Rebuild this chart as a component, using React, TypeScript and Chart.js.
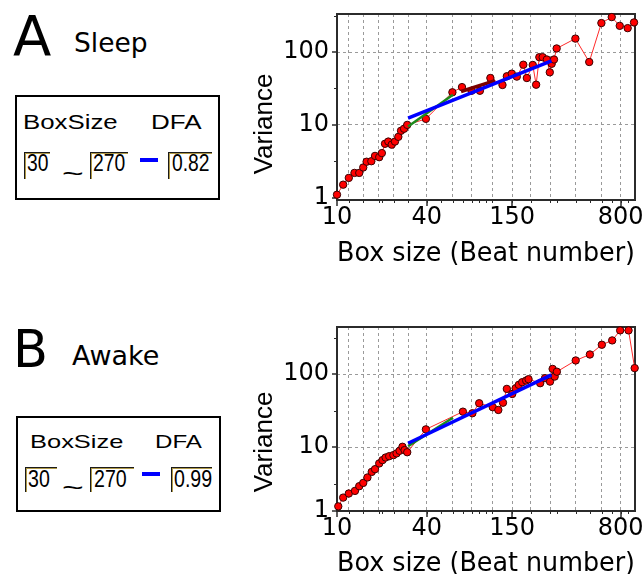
import React, { useEffect, useRef } from "react";
import { Chart, registerables } from "chart.js";

Chart.register(...registerables);

// ---------------- data ----------------
// Panel A (Sleep)
const sleepBoxSize = [10, 11, 12, 13.1, 14.1, 15, 15.8, 17, 18, 19.2, 20, 21, 22.1, 23.3, 24.5, 25.8, 26.9, 28.2, 29.6, 39.5, 59.5, 69, 80, 91, 107, 129, 138, 149, 161, 178, 188, 206, 217, 228, 240, 256, 268, 276, 286, 298, 398, 493, 595, 698, 790, 893, 985];
const sleepVariance = [1.1, 1.51, 1.87, 2.19, 2.19, 2.6, 3.12, 3.17, 3.75, 3.6, 4.1, 5.5, 5.9, 5.35, 5.9, 6.85, 8.3, 8.85, 10.0, 12.1, 28, 33, 29.4, 29.4, 44, 35.3, 46.5, 50.5, 46, 67, 44, 66.5, 35.6, 85, 85, 79, 52.7, 69, 79, 112, 153, 73, 250, 302, 229, 213, 255];
const sleepFitBlueX = [30, 275];
const sleepFitBlueY = [12.4, 75.5];
const sleepFitGreenX = [30, 60];
const sleepFitGreenY = [9.5, 25.9];
const sleepFitMaroonX = [68, 115];
const sleepFitMaroonY = [28.7, 40.5];
const sleepSettings = ["30", "270", "0.82"];

// Panel B (Awake)
const awakeBoxSize = [10.2, 11, 12, 13.2, 14.1, 15, 16, 17.1, 18, 19.2, 20.2, 21.2, 22.4, 23.9, 25.1, 26.3, 27.5, 28.4, 29.6, 39.5, 70, 81, 90, 111, 121, 130, 138, 150, 158, 166, 175, 186, 193, 231, 249, 269, 280, 289, 299, 400, 498, 599, 703, 795, 905, 995];
const awakeVariance = [1.54, 2.03, 2.31, 2.51, 2.91, 3.23, 3.83, 4.57, 4.98, 5.97, 6.63, 7.2, 7.5, 7.76, 8.2, 8.9, 10.1, 9.1, 8.5, 17.5, 30.6, 29.1, 39.9, 35.2, 32.3, 40.6, 62.8, 53.5, 64.1, 71.3, 77.6, 81.7, 85.3, 75.2, 88.1, 79, 118, 92.6, 108, 154, 186, 253, 290, 398, 398, 121];
const awakeFitBlueX = [30, 275];
const awakeFitBlueY = [11.3, 97.5];
const awakeFitGreenX = [30, 60];
const awakeFitGreenY = [10.3, 25.3];
const awakeSettings = ["30", "270", "0.99"];

// axes
const xRange = [10, 1000];
const sleepYRange = [0.93, 333];
const awakeYRange = [1.33, 443];
const xGridTicks = [12, 15, 19, 24, 30, 40, 60, 80, 110, 150, 200, 270, 400, 600, 800];
const xLabelTicks = [10, 40, 150, 800];
const xMinorTicks = [20, 50, 70, 90, 100, 300, 500, 700, 900];
const sleepYLabelTicks = [1, 10, 100];
const awakeYLabelTicks = [1.33, 10, 100];
const yGridTicks = [10, 100];
const yMinorTicks = [3.16, 31.6, 316];

// ---------------- chart building ----------------
const pts = (xs: number[], ys: number[]) => xs.map((x, i) => ({ x, y: ys[i] }));

type Fit = { xs: number[]; ys: number[]; color: string; width: number };
type Panel = {
  top: number;
  padTop: number;
  xHeight: number;
  titlePadBottom: number;
  yTitleY: number;
  yRange: number[];
  yTicks: number[];
  box: number[];
  variance: number[];
  fits: Fit[];
};

const panelA: Panel = {
  top: 0,
  padTop: 14,
  xHeight: 80,
  titlePadBottom: 10,
  yTitleY: 124,
  yRange: sleepYRange,
  yTicks: sleepYLabelTicks,
  box: sleepBoxSize,
  variance: sleepVariance,
  fits: [
    { xs: sleepFitGreenX, ys: sleepFitGreenY, color: "#1c8a1c", width: 2.5 },
    { xs: sleepFitMaroonX, ys: sleepFitMaroonY, color: "#7a0000", width: 3.5 },
    { xs: sleepFitBlueX, ys: sleepFitBlueY, color: "#0000ff", width: 3.5 },
  ],
};

const panelB: Panel = {
  top: 312,
  padTop: 15,
  xHeight: 81,
  titlePadBottom: 12,
  yTitleY: 130,
  yRange: awakeYRange,
  yTicks: awakeYLabelTicks,
  box: awakeBoxSize,
  variance: awakeVariance,
  fits: [
    { xs: awakeFitGreenX, ys: awakeFitGreenY, color: "#1c8a1c", width: 2.5 },
    { xs: awakeFitBlueX, ys: awakeFitBlueY, color: "#0000ff", width: 3.5 },
  ],
};

function decorPlugin(p: Panel) {
  return {
    id: "decor",
    beforeDatasetsDraw(chart: any) {
      const { ctx, chartArea: a } = chart;
      const xs = chart.scales.x;
      const ys = chart.scales.y;
      ctx.save();
      ctx.strokeStyle = "#2b2b2b";
      ctx.lineWidth = 2;
      ctx.strokeRect(a.left, a.top, a.right - a.left, a.bottom - a.top);
      ctx.lineWidth = 1.5;
      ctx.beginPath();
      for (const v of xLabelTicks) {
        const px = Math.round(xs.getPixelForValue(v));
        ctx.moveTo(px, a.bottom);
        ctx.lineTo(px, a.bottom + 6);
      }
      for (const v of p.yTicks) {
        const py = Math.round(ys.getPixelForValue(v));
        ctx.moveTo(a.left, py);
        ctx.lineTo(a.left - 5, py);
      }
      ctx.stroke();
      ctx.lineWidth = 1;
      ctx.beginPath();
      for (const v of [...xGridTicks, ...xMinorTicks]) {
        if (v < xRange[0] || v > xRange[1]) continue;
        const px = Math.round(xs.getPixelForValue(v)) + 0.5;
        ctx.moveTo(px, a.bottom);
        ctx.lineTo(px, a.bottom + 3);
      }
      for (const v of yMinorTicks) {
        if (v < p.yRange[0] || v > p.yRange[1]) continue;
        const py = Math.round(ys.getPixelForValue(v)) + 0.5;
        ctx.moveTo(a.left, py);
        ctx.lineTo(a.left - 3, py);
      }
      ctx.stroke();
      ctx.restore();
    },
    afterDraw(chart: any) {
      const { ctx } = chart;
      ctx.save();
      ctx.translate(24.5, p.yTitleY);
      ctx.rotate(-Math.PI / 2);
      ctx.font = "26px 'Liberation Sans'";
      ctx.fillStyle = "#000";
      ctx.textAlign = "center";
      ctx.textBaseline = "middle";
      ctx.fillText("Variance", 0, 0);
      ctx.restore();
    },
  };
}

function buildConfig(p: Panel): any {
  const datasets: any[] = [
    {
      data: pts(p.box, p.variance),
      showLine: true,
      borderColor: "#ff2a2a",
      borderWidth: 1,
      pointRadius: 3.7,
      pointBackgroundColor: "#ff0000",
      pointBorderColor: "#3a0000",
      pointBorderWidth: 1,
      order: 5,
      clip: false,
    },
    ...p.fits.map((f, i) => ({
      data: pts(f.xs, f.ys),
      showLine: true,
      borderColor: f.color,
      borderWidth: f.width,
      pointRadius: 0,
      order: 3 - i,
    })),
  ];
  return {
    type: "scatter",
    data: { datasets },
    plugins: [decorPlugin(p)],
    options: {
      animation: false,
      responsive: false,
      maintainAspectRatio: false,
      events: [],
      layout: { padding: { left: 0, top: p.padTop, right: 9, bottom: 0 }, autoPadding: false },
      plugins: { legend: { display: false }, tooltip: { enabled: false } },
      scales: {
        x: {
          type: "logarithmic",
          min: xRange[0],
          max: xRange[1],
          bounds: "data",
          afterBuildTicks: (s: any) => {
            s.ticks = [xRange[0], ...xGridTicks].map((v) => ({ value: v }));
          },
          afterFit: (s: any) => {
            s.height = p.xHeight;
            s.paddingLeft = 0;
            s.paddingRight = 0;
          },
          ticks: {
            autoSkip: false,
            maxRotation: 0,
            minRotation: 0,
            padding: 3,
            color: "#000",
            font: { family: "DejaVu Sans", size: 24 },
            callback: (v: any) => (xLabelTicks.includes(Number(v)) ? String(v) : ""),
          },
          grid: {
            drawTicks: false,
            lineWidth: 1,
            color: (c: any) =>
              c.tick && xGridTicks.includes(c.tick.value) ? "#9a9a9a" : "rgba(0,0,0,0)",
          },
          border: { display: false, dash: [3, 3] },
          title: {
            display: true,
            text: "Box size (Beat number)",
            color: "#000",
            font: { family: "DejaVu Sans", size: 26 },
            padding: { top: 0, bottom: p.titlePadBottom },
          },
        },
        y: {
          type: "logarithmic",
          min: p.yRange[0],
          max: p.yRange[1],
          bounds: "data",
          afterBuildTicks: (s: any) => {
            s.ticks = p.yTicks.map((v) => ({ value: v }));
          },
          afterFit: (s: any) => {
            s.width = 97;
            s.paddingTop = 0;
            s.paddingBottom = 0;
          },
          ticks: {
            autoSkip: false,
            padding: 8,
            color: "#000",
            font: { family: "DejaVu Sans", size: 24 },
            callback: (v: any) => String(Math.round(Number(v))),
          },
          grid: {
            drawTicks: false,
            lineWidth: 1,
            color: (c: any) =>
              c.tick && yGridTicks.includes(c.tick.value) ? "#9a9a9a" : "rgba(0,0,0,0)",
          },
          border: { display: false, dash: [3, 3] },
          title: { display: false },
        },
      },
    },
  };
}

function ChartPanel({ panel }: { panel: Panel }) {
  const ref = useRef<HTMLCanvasElement | null>(null);
  useEffect(() => {
    if (!ref.current) return;
    const chart = new Chart(ref.current, buildConfig(panel));
    return () => chart.destroy();
  }, [panel]);
  return (
    <canvas
      ref={ref}
      width={404}
      height={280}
      style={{ position: "absolute", left: 240, top: panel.top, width: 404, height: 280, display: "block" }}
    />
  );
}

// ---------------- left-side labels ----------------
function Txt(props: {
  x: number;
  base: number;
  size: number;
  family?: string;
  sx?: number;
  children: any;
}) {
  const { x, base, size, family = "DejaVu Sans", sx = 1, children } = props;
  return (
    <div
      style={{
        position: "absolute",
        left: x,
        top: base - 0.846 * size,
        fontFamily: `'${family}'`,
        fontSize: size,
        lineHeight: `${size}px`,
        whiteSpace: "nowrap",
        transform: `scaleX(${sx})`,
        transformOrigin: "0 0",
        color: "#000",
      }}
    >
      {children}
    </div>
  );
}

function Field(props: { x: number; y: number; w: number; h: number }) {
  return (
    <div
      style={{
        position: "absolute",
        left: props.x,
        top: props.y,
        width: props.w,
        height: props.h,
        boxSizing: "border-box",
        borderTop: "1px solid #1a1a1a",
        borderLeft: "1px solid #1a1a1a",
        boxShadow: "inset 1px 1px 0 #b09a48",
      }}
    />
  );
}

function SettingsBox(props: {
  box: number[];
  headBase: number;
  headSize: number;
  headSx: number[];
  headX: number[];
  fieldY: number;
  fieldH: number;
  fields: number[][];
  numBase: number;
  numSize: number;
  numSx: number;
  numX: number[];
  tildeBase: number;
  dash: number[];
  values: string[];
}) {
  const p = props;
  return (
    <>
      <div
        style={{
          position: "absolute",
          left: p.box[0],
          top: p.box[1],
          width: p.box[2],
          height: p.box[3],
          boxSizing: "border-box",
          border: "2px solid #000",
        }}
      />
      <Txt x={p.headX[0]} base={p.headBase} size={p.headSize} family="Liberation Sans" sx={p.headSx[0]}>
        BoxSize
      </Txt>
      <Txt x={p.headX[1]} base={p.headBase} size={p.headSize} family="Liberation Sans" sx={p.headSx[1]}>
        DFA
      </Txt>
      {p.fields.map((f, i) => (
        <Field key={i} x={f[0]} y={p.fieldY} w={f[1]} h={p.fieldH} />
      ))}
      {p.values.map((v, i) => (
        <Txt key={v + i} x={p.numX[i]} base={p.numBase} size={p.numSize} family="Liberation Sans" sx={p.numSx}>
          {v}
        </Txt>
      ))}
      <Txt x={62} base={p.tildeBase} size={24} family="Liberation Sans" sx={1.55}>
        ~
      </Txt>
      <div
        style={{
          position: "absolute",
          left: p.dash[0],
          top: p.dash[1],
          width: p.dash[2],
          height: p.dash[3],
          background: "#0000ff",
        }}
      />
    </>
  );
}

export default function App() {
  return (
    <div
      style={{
        position: "absolute",
        left: 0,
        top: 0,
        width: 644,
        height: 574,
        overflow: "hidden",
        background: "#fff",
      }}
    >
      {/* Panel A */}
      <Txt x={13} base={55} size={56}>A</Txt>
      <Txt x={74} base={52.5} size={26.5}>Sleep</Txt>
      <SettingsBox
        box={[15, 95, 205, 105]}
        headBase={129.3}
        headSize={20}
        headSx={[1.29, 1.3]}
        headX={[23, 151]}
        fieldY={152}
        fieldH={27}
        fields={[[24, 26], [90, 38], [168, 44]]}
        numBase={172}
        numSize={23.5}
        numSx={0.82}
        numX={[27, 92.5, 171.5]}
        tildeBase={182}
        dash={[140, 158, 18, 3.5]}
        values={sleepSettings}
      />
      <ChartPanel panel={panelA} />

      {/* Panel B */}
      <Txt x={13} base={367} size={51}>B</Txt>
      <Txt x={72} base={365} size={27}>Awake</Txt>
      <SettingsBox
        box={[16, 416, 205, 96]}
        headBase={448.3}
        headSize={19}
        headSx={[1.34, 1.27]}
        headX={[30, 155]}
        fieldY={467}
        fieldH={25}
        fields={[[25, 32], [90, 44], [171, 41]]}
        numBase={488}
        numSize={24.5}
        numSx={0.8}
        numX={[27.5, 94, 174]}
        tildeBase={496.5}
        dash={[142, 472, 18, 4]}
        values={awakeSettings}
      />
      <ChartPanel panel={panelB} />
    </div>
  );
}
